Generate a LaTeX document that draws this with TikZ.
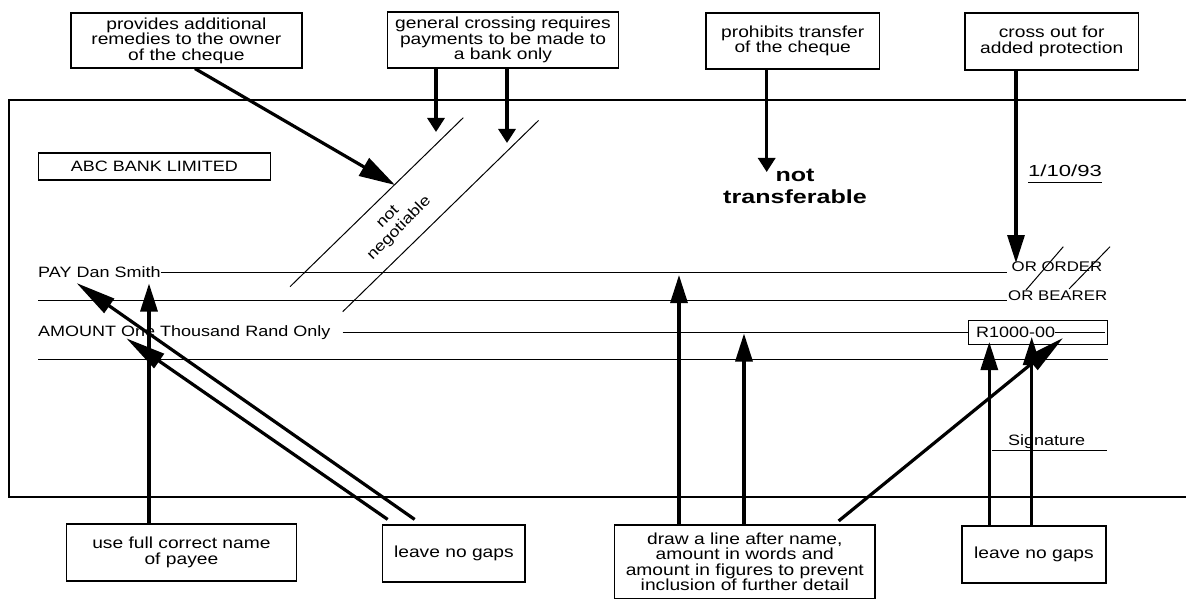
\documentclass[tikz,border=0pt]{standalone}
\usepackage{fontspec}
\setmainfont{Liberation Sans}[FakeStretch=1.2]
\newfontfamily\widefont{Liberation Sans}[FakeStretch=1.32]
\usetikzlibrary{arrows.meta,calc}
\begin{document}
\begin{tikzpicture}[x=1pt,y=-1pt,
  every node/.style={font=\fontsize{15}{15.5}\selectfont, inner sep=0pt},
  note/.style={draw, line width=1.2pt, align=center, font=\fontsize{16}{15.5}\selectfont},
  ruled/.style={line width=1pt},
  chequeframe/.style={line width=2pt},
  arrowthick/.style={line width=3.2pt, -{Triangle[length=28pt,width=17pt]}},
  arrowshort/.style={line width=3.2pt, -{Triangle[length=14pt,width=17pt]}},
  arrowlong/.style={line width=3.2pt, -{Triangle[length=40pt,width=17pt]}},
  arrowbig/.style={line width=3.2pt, -{Triangle[length=36pt,width=20pt]}}]
\useasboundingbox[fill=white] (0,0) rectangle (1186,599);

% cheque frame
\draw[chequeframe] (1186,100) -- (9,100) -- (9,496.5) -- (1186,496.5);

% top notes
\node[note, minimum width=231pt, minimum height=55pt] (B1) at (186.4,40.5)
  {provides additional\\remedies to the owner\\of the cheque};
\node[note, minimum width=230.6pt, minimum height=56pt] (B2) at (503,40)
  {general crossing requires\\payments to be made to\\a bank only};
\node[note, minimum width=173.3pt, minimum height=56pt] (B3) at (792.7,41)
  {prohibits transfer\\of the cheque};
\node[note, minimum width=173.3pt, minimum height=57pt] (B4) at (1051.7,41.5)
  {cross out for\\added protection};

% bottom notes
\node[note, minimum width=230.4pt, minimum height=57pt] (L1) at (181.4,552.5)
  {use full correct name\\of payee};
\node[note, minimum width=142.3pt, minimum height=57pt] (L2) at (453.9,553.5)
  {leave no gaps};
\node[note, minimum width=260.5pt, minimum height=73.5pt] (L3) at (744.8,561.8)
  {draw a line after name,\\amount in words and\\amount in figures to prevent\\inclusion of further detail};
\node[note, minimum width=144pt, minimum height=57pt] (L4) at (1034,554.5)
  {leave no gaps};

% cheque contents
\node[draw, line width=1.2pt, minimum width=232.2pt, minimum height=27pt] (abc) at (154.4,166.5) {ABC BANK LIMITED};
\node[anchor=base west, font=\fontsize{16}{16}\selectfont] (date) at (1028,176.7) {\scalebox{1.15}[1]{1/10/93}};
\draw[ruled] ($(date.base west)+(0,6)$) -- ($(date.base east)+(0,6)$);

\node[align=center, font={\widefont\fontsize{19}{22}\selectfont\bfseries}] (nt) at (795,186) {not\\transferable};

\draw[ruled] (463.3,117.7) -- (290,286.7);
\draw[ruled] (538.5,120.5) -- (342.7,311.7);
\node[rotate=45, align=center, font=\fontsize{15}{16}\selectfont] (nn) at (394,223) {not\\negotiable};

\coordinate (payy) at (0,272);
\node[anchor=base west] (pay) at (38,277.5) {PAY Dan Smith};
\draw[ruled] (pay.east |- payy) -- (1007,272);
\node[anchor=base west, font=\fontsize{14}{15}\selectfont] (order) at (1011.5,271.7) {OR ORDER};
\node[anchor=base west, font=\fontsize{14}{15}\selectfont] (bearer) at (1008,300) {OR BEARER};
\draw[ruled] (1063.3,246.7) -- (1026,290);
\draw[ruled] (1110,246.7) -- (1069,289);
\draw[ruled] (38,300.5) -- (1007,300.5);

\node[draw, line width=1.2pt, minimum width=139pt, minimum height=23.5pt] (Rbox) at (1037.9,332.4) {};
\node[anchor=base west] (rtext) at (976,337.5) {R1000-00};
\draw[ruled] (rtext.east |- Rbox.center) -- ([xshift=-3pt]Rbox.east);
\node[anchor=base west] (amt) at (38,336.7) {AMOUNT One Thousand Rand Only};
\draw[ruled] ([xshift=12pt]amt.east |- Rbox.west) -- (Rbox.west);
\draw[ruled] (38,359) -- (1107.5,359);

\node[anchor=base west] (sig) at (1008,445) {Signature};
\draw[ruled] (992,450.7) -- (1107,450.7);

% arrow tips
\coordinate (tB1) at (395,185);
\coordinate (t2a) at (436,132);
\coordinate (t2b) at (507,143);
\coordinate (tB3) at (766.7,172);
\coordinate (tB4) at (1016,263);
\coordinate (tPay) at (149,283.5);
\coordinate (tG1) at (76.5,283);
\coordinate (tG2) at (126.3,338.3);
\coordinate (tD1) at (679,275);
\coordinate (tD2) at (744,333.5);
\coordinate (tD3) at (1063,338);
\coordinate (tE1) at (989.3,342);
\coordinate (tE2) at (1031.7,337);

% arrows from top notes
\draw[arrowbig] ([xshift=8.6pt]B1.south) -- (tB1);
\draw[arrowshort] (B2.south -| t2a) -- (t2a);
\draw[arrowshort] (B2.south -| t2b) -- (t2b);
\draw[arrowshort] (B3.south -| tB3) -- (tB3);
\draw[arrowthick] (B4.south -| tB4) -- (tB4);

% arrows from bottom notes
\draw[arrowthick] (L1.north -| tPay) -- (tPay);
\draw[arrowlong] ($(L2.north west)+(32.5,-5)$) -- (tG1);
\draw[arrowlong] ($(L2.north west)+(5.5,-5)$) -- (tG2);
\draw[arrowthick] (L3.north -| tD1) -- (tD1);
\draw[arrowthick] (L3.north -| tD2) -- (tD2);
\draw[arrowlong] ($(L3.north east)+(-37,-3.5)$) -- (tD3);
\draw[arrowthick] (L4.north -| tE1) -- (tE1);
\draw[arrowthick] (L4.north -| tE2) -- (tE2);
\end{tikzpicture}
\end{document}
